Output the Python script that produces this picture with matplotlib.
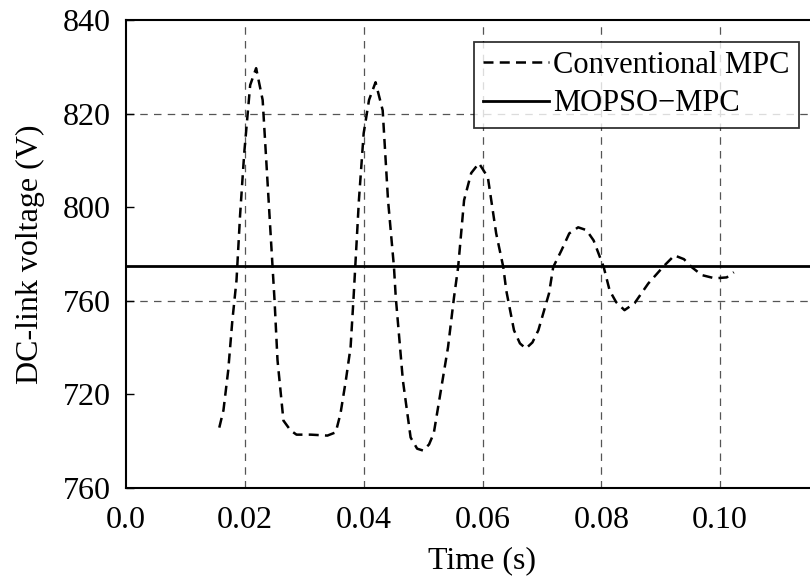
import matplotlib
matplotlib.use('Agg')
import matplotlib.pyplot as plt

# Conventional MPC trace
t_conv = [0.0157, 0.0164, 0.0172, 0.0179, 0.0186, 0.0192, 0.0199, 0.0209, 0.0219, 0.0230,
          0.0236, 0.0243, 0.0250, 0.0255, 0.0265, 0.0277, 0.0287, 0.0311, 0.0339, 0.0353,
          0.0361, 0.0370, 0.0378, 0.0383, 0.0392, 0.0400, 0.0409, 0.0420, 0.0432, 0.0441,
          0.0451, 0.0454, 0.0466, 0.0479, 0.0490, 0.0500, 0.0510, 0.0518, 0.0530, 0.0542,
          0.0552, 0.0559, 0.0569, 0.0581, 0.0594, 0.0609, 0.0623, 0.0635, 0.0640, 0.0653,
          0.0663, 0.0673, 0.0684, 0.0694, 0.0712, 0.0719, 0.0733, 0.0746, 0.0761, 0.0775,
          0.0787, 0.0804, 0.0814, 0.0825, 0.0839, 0.0856, 0.0879, 0.0905, 0.0923, 0.0939,
          0.0952, 0.0969, 0.0991, 0.1011, 0.1023]
v_conv = [752.9, 756.6, 765.1, 775.8, 784.4, 798.3, 811.6, 826.1, 829.7, 822.9,
          810.1, 795.1, 780.1, 767.3, 754.4, 752.3, 751.4, 751.4, 751.2, 751.9,
          755.9, 763.0, 770.1, 780.7, 801.5, 815.8, 822.9, 826.7, 820.7, 801.5,
          787.2, 780.8, 763.0, 750.8, 748.4, 748.0, 749.3, 751.7, 760.9, 770.1,
          780.7, 787.2, 801.5, 807.3, 809.4, 806.4, 794.4, 787.2, 782.2, 773.7,
          770.9, 769.8, 771.1, 773.7, 781.6, 787.2, 790.8, 794.4, 795.7, 795.1,
          792.9, 787.2, 782.2, 779.7, 778.0, 779.5, 783.7, 787.4, 789.7, 788.9,
          787.2, 785.5, 784.8, 785.0, 786.1]

mopso_level = 787.4

x_ticks = [0.0, 0.02, 0.04, 0.06, 0.08, 0.10]
x_labels = ['0.0', '0.02', '0.04', '0.06', '0.08', '0.10']
y_ticks = [840, 820, 800, 780, 760, 740]
y_labels = ['840', '820', '800', '760', '720', '760']  # as printed in the original
x_grid = [0.02, 0.04, 0.06, 0.08, 0.10]
y_grid = [820, 780]

plt.rcParams['font.family'] = ['Liberation Serif', 'DejaVu Serif']

fig = plt.figure(figsize=(8.1, 5.76), dpi=100)
ax = fig.add_axes([126 / 810, 1 - 488 / 576, (839 - 126) / 810, (488 - 20) / 576])

for xv in x_grid:
    ax.axvline(xv, color='#555555', lw=0.9, ls=(0, (6, 5)), zorder=1)
for yv in y_grid:
    ax.axhline(yv, color='#555555', lw=0.9, ls=(0, (6, 5)), zorder=1)

ax.plot(t_conv, v_conv, color='black', lw=1.8, ls=(0, (4, 2.5)), label='Conventional MPC', zorder=3)
ax.axhline(mopso_level, color='black', lw=2.0, label='MOPSO\u2212MPC', zorder=3)

ax.set_xlim(0, 0.12)
ax.set_ylim(740, 840)
ax.set_xticks(x_ticks)
ax.set_xticklabels(x_labels)
ax.set_yticks(y_ticks)
ax.set_yticklabels(y_labels)
ax.tick_params(axis='y', direction='in', length=6, width=1, labelsize=23, pad=11)
ax.tick_params(axis='x', length=0, labelsize=23, pad=13)
ax.spines['right'].set_visible(False)
for s in ['left', 'top', 'bottom']:
    ax.spines[s].set_linewidth(1.5)

ax.set_xlabel('Time (s)', fontsize=23, labelpad=8)
ax.set_ylabel('DC-link voltage (V)', fontsize=23, labelpad=13)

leg = ax.legend(loc='upper left', bbox_to_anchor=((474 - 126) / 713, 1 - (42 - 20) / 468),
                fontsize=22, frameon=True, fancybox=False, edgecolor='black',
                handlelength=2.15, handletextpad=0.15, borderpad=0.3, labelspacing=0.3,
                borderaxespad=0)
leg.get_frame().set_linewidth(1.3)

fig.savefig('out.png', dpi=100)
